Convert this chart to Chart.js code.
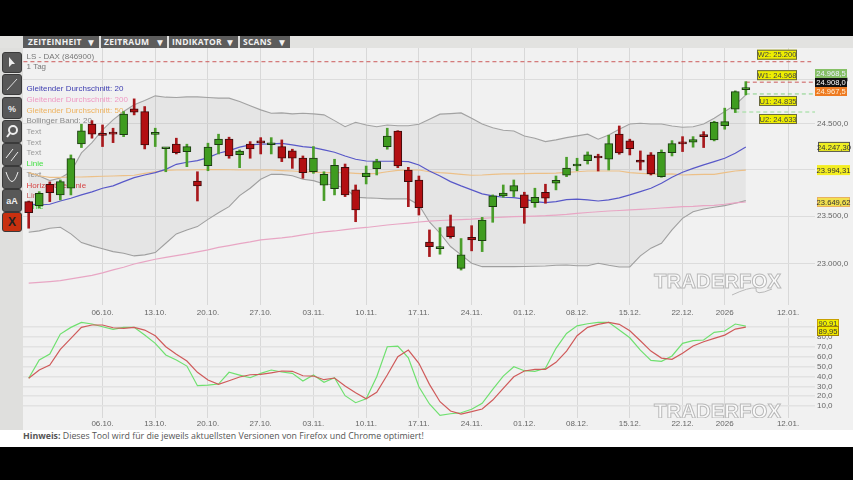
<!DOCTYPE html>
<html>
<head>
<meta charset="utf-8">
<title>LS - DAX</title>
<script src="https://cdn.jsdelivr.net/npm/chart.js"></script>
<style>
html,body{margin:0;padding:0;background:#000;overflow:hidden}
#page{position:relative;width:853px;height:480px;background:#000;overflow:hidden}
#toolbar{position:absolute;left:0;top:36px;width:853px;height:12px;background:#e2e2e0}
.tab{position:absolute;top:0;height:12px;background:#5c5c5c;color:#f2f2f2;font:bold 8.5px "Open Sans",sans-serif;line-height:12px;letter-spacing:.25px;white-space:nowrap}
.tab span{position:absolute;top:0}
.tab span+span{font-size:10px}
#side{position:absolute;left:0;top:48px;width:23px;height:382px;background:#dfdfdd}
.btn{position:absolute;left:2px;width:18px;background:#585858;border:1px solid #3a3a3a;border-radius:3px;box-sizing:content-box;color:#eee;text-align:center;font:bold 9px "Liberation Sans",sans-serif}
.btn svg{position:absolute;left:0;top:0;width:18px;height:100%}
#bg{position:absolute;left:23px;top:48px;width:830px;height:382px;background:#f1f1f1}
#priceCanvas{position:absolute;left:23px;top:48px;filter:blur(.3px)}
#stochCanvas{position:absolute;left:23px;top:318px;filter:blur(.3px)}
#foot{position:absolute;left:0;top:430px;width:853px;height:17px;background:#fff;color:#555;font:8.8px "Open Sans",sans-serif;line-height:13px;padding-left:23px;box-sizing:border-box}
</style>
</head>
<body>
<div id="page">
  <div id="toolbar">
    <div class="tab" style="left:23px;width:76px"><span style="left:5px">ZEITEINHEIT</span><span style="left:63px">▼</span></div>
    <div class="tab" style="left:101px;width:66px"><span style="left:3px">ZEITRAUM</span><span style="left:54px">▼</span></div>
    <div class="tab" style="left:169px;width:69px"><span style="left:3px">INDIKATOR</span><span style="left:56px">▼</span></div>
    <div class="tab" style="left:240px;width:50px"><span style="left:3px">SCANS</span><span style="left:37px">▼</span></div>
  </div>
  <div id="side">
    <div class="btn" style="top:4px;height:19px"><svg viewBox="0 0 18 19"><path d="M6 4l0 10 3-3 3 0z" fill="#eee"/></svg></div>
    <div class="btn" style="top:26px;height:19px"><svg viewBox="0 0 18 19"><path d="M4 15L14 4" stroke="#ddd"/></svg></div>
    <div class="btn" style="top:49px;height:20px;line-height:23px">%</div>
    <div class="btn" style="top:72px;height:21px"><svg viewBox="0 0 18 21"><circle cx="10" cy="9" r="4" fill="none" stroke="#eee" stroke-width="2"/><path d="M7 12l-3 4" stroke="#eee" stroke-width="2"/></svg></div>
    <div class="btn" style="top:95px;height:21px"><svg viewBox="0 0 18 21"><path d="M3 14L10 5M8 17L15 8" stroke="#eee"/></svg></div>
    <div class="btn" style="top:118px;height:21px"><svg viewBox="0 0 18 21"><path d="M3 5Q9 24 15 5" fill="none" stroke="#eee"/></svg></div>
    <div class="btn" style="top:141px;height:21px;line-height:22px">aA</div>
    <div class="btn" style="top:164px;height:18px;line-height:19px;background:#c8300f;color:#222;font-size:12px">X</div>
  </div>
  <div id="bg"></div>
  <canvas id="priceCanvas" width="830" height="270"></canvas>
  <canvas id="stochCanvas" width="830" height="112"></canvas>
  <div id="foot"><b>Hinweis:</b> Dieses Tool wird für die jeweils aktuellsten Versionen von Firefox und Chrome optimiert!</div>
</div>

<script>
// candles, one entry per trading day
var opens = [23654,23611,23841,23726,23798,24280,24500,24382,24404,24382,24668,24638,24385,24227,24277,24196,23876,24042,24273,24332,24163,24277,24302,24271,24251,24203,24126,23976,23830,23794,24024,23780,23923,24009,24251,24420,23995,23887,23224,23156,23388,22951,23276,23241,23600,23715,23766,23728,23643,23755,23852,23938,24038,24097,24137,24112,24387,24313,24104,24159,23923,24185,24291,24299,24379,24324,24481,24665,24883];
var closes = [23536,23744,23751,23869,24119,24423,24387,24374,24387,24609,24631,24269,24393,24236,24185,24251,23823,24244,24332,24148,24200,24225,24291,24280,24123,24123,23966,24126,23948,24046,23726,23565,23962,24086,24365,24038,23869,23589,23178,23164,23283,23091,23248,23458,23715,23747,23826,23589,23701,23690,23884,24016,24049,24159,24126,24283,24181,24229,24079,23952,24189,24283,24280,24327,24360,24522,24526,24862,24895];
var highs = [23660,23761,23866,23887,24159,24497,24537,24489,24453,24638,24780,24694,24453,24236,24343,24277,23976,24288,24387,24354,24214,24305,24349,24349,24324,24222,24148,24251,23976,24112,24060,23833,24038,24112,24453,24426,24024,23930,23353,23377,23511,23262,23398,23486,23726,23833,23887,23755,23798,23841,23930,24134,24123,24192,24167,24376,24478,24332,24203,24185,24214,24316,24360,24360,24415,24530,24676,24870,24974];
var lows = [23371,23586,23654,23672,23726,24240,24343,24251,24294,24360,24601,24225,24251,23976,24170,24031,23661,23987,24170,24123,24020,24123,24170,24170,24086,24013,23905,23959,23665,23726,23708,23440,23844,23941,24222,24020,23600,23511,23073,23098,23266,22933,23133,23125,23434,23701,23708,23423,23594,23637,23780,23923,23987,24060,23984,23995,24167,24159,23995,23941,23916,24148,24196,24244,24240,24313,24442,24627,24825];

// indicators
var ma20 = [23629,23618,23626,23661,23690,23726,23758,23798,23823,23869,23912,23941,23966,24002,24057,24079,24097,24130,24178,24207,24244,24269,24277,24280,24286,24269,24251,24240,24214,24189,24148,24112,24093,24090,24090,24090,24086,24050,23984,23930,23869,23823,23780,23737,23715,23701,23697,23680,23654,23643,23654,23675,23680,23672,23661,23672,23694,23726,23761,23798,23852,23916,23970,24013,24050,24086,24123,24178,24247];
var ma50 = [23966,23933,23916,23916,23919,23919,23923,23927,23930,23933,23938,23959,23976,23991,23995,23995,23998,24000,24000,23998,23995,23995,23995,23995,23989,23984,23976,23973,23966,23966,23966,23959,23952,23959,23976,23991,23995,23995,23976,23966,23959,23948,23938,23941,23948,23952,23952,23955,23959,23959,23962,23970,23976,23984,23984,23984,23984,23966,23959,23952,23948,23952,23941,23944,23948,23948,23966,23984,23994];
var ma200 = [22797,22805,22814,22824,22841,22859,22877,22903,22934,22962,22996,23020,23045,23064,23083,23101,23122,23143,23169,23188,23209,23227,23248,23258,23269,23283,23301,23318,23332,23342,23356,23369,23379,23392,23405,23416,23426,23437,23447,23453,23458,23463,23468,23476,23482,23489,23493,23497,23500,23504,23511,23518,23529,23538,23546,23554,23559,23565,23572,23578,23586,23593,23600,23604,23611,23615,23626,23640,23650];
var bollUpper = [23966,23930,23880,23909,23976,24181,24294,24434,24545,24638,24713,24761,24814,24799,24795,24802,24802,24795,24788,24788,24750,24702,24657,24620,24623,24612,24620,24612,24601,24537,24470,24519,24489,24470,24489,24481,24481,24497,24553,24609,24615,24623,24564,24500,24459,24431,24423,24368,24343,24305,24324,24349,24368,24387,24332,24379,24442,24500,24508,24500,24500,24478,24464,24470,24500,24564,24638,24713,24825];
var bollLower = [23329,23343,23371,23381,23311,23220,23185,23154,23125,23108,23080,23091,23115,23213,23311,23353,23388,23465,23535,23600,23718,23798,23895,23948,23948,23933,23895,23880,23844,23833,23798,23701,23694,23690,23683,23683,23683,23618,23437,23318,23178,23091,23003,22968,22968,22968,22968,22970,22972,22975,22982,22986,22978,22978,23003,22982,22965,22965,23080,23161,23213,23353,23476,23546,23575,23594,23611,23637,23665];

// stochastic panel
var stochK = [38.1,56.6,62.7,82.9,89.7,94.8,93.1,90.3,87.7,89.7,89.7,81.9,73.5,61.7,56.6,50.5,30.6,31.3,32.3,44.2,41.4,38.7,43.1,46.5,44.5,43.1,35.3,41.4,34,38.7,20.5,13.4,17.4,39.7,70.1,70.8,58.9,29.6,12.1,0.6,2.2,3.2,6.7,12.8,26.9,40.4,49.8,45.8,45.2,48.2,68.5,83.6,91.3,93.4,94.8,94.8,87,79.2,66.7,56.3,55.3,60.7,73.5,76.2,76.9,84.7,86,93.1,90.91];
var stochD = [38.1,46.5,51.5,67.4,78.6,89.7,92.1,92.1,89.3,88.7,89.7,87,81.2,70.1,62.4,55.6,44.2,36.4,32,35.6,39.4,41.7,42.1,43.7,45.5,45.2,40.7,40.4,36.7,38.4,30.3,23.5,17.4,23.9,41.4,60,66.7,53.3,32,14.4,5,1.9,4.3,7,16.1,28,39.7,45.5,47.2,47.2,54.3,65.7,81.2,89.7,92.8,94.8,92.8,86.3,76.2,65.7,58.6,57.3,63.4,70.8,75.1,78.6,81.9,88,89.95];

// x axis: trading day index and its label
var tickIndexes = [7,12,17,22,27,32,37,42,47,52,57,62,66,72];
var tickLabels = ["06.10.","13.10.","20.10.","27.10.","03.11.","10.11.","17.11.","24.11.","01.12.","08.12.","15.12.","22.12.","2026","12.01."];
var priceTicks = [23000,23500,24000,24500,25000];
var stochTicks = [10,20,30,40,50,60,70,80,90];

// pivot levels
var levelNames = ["W2: 25.200","W1: 24.968","U1: 24.835","U2: 24.633"];
var levelValues = [25200,24968,24835,24633];

var legendTexts = ["Gleitender Durchschnitt: 20","Gleitender Durchschnitt: 200","Gleitender Durchschnitt: 50","Bollinger Band: 20","Text","Text","Text","Linie","Text","Horizontale Linie","Linie","Linie"];
var legendColors = ["#3c3cb0","#ef9ac4","#eeb25e","#8a8a8a","#9a9a9a","#9a9a9a","#9a9a9a","#44e044","#8a8a8a","#e04040","#c86060","#44e044"];

var GREEN = "#3f9c1f", RED = "#b30f12";

function series(values) {
    return values.map(function (v, i) { return {x: i, y: v}; });
}

function lineSet(values, color, width) {
    return {type: "line", data: series(values), borderColor: color, borderWidth: width || 1.2, pointRadius: 0, tension: 0, fill: false, order: 5};
}

function levelSet(value, from, to, color) {
    return {type: "line", data: [{x: from, y: value}, {x: to, y: value}], borderColor: color, borderWidth: 1, borderDash: [4, 3], pointRadius: 0, fill: false, order: 4};
}

function isUp(ctx) {
    return closes[ctx.dataIndex] >= opens[ctx.dataIndex];
}

function germanNumber(v) {
    return String(Math.floor(v / 1000)) + "." + String(v % 1000).padStart(3, "0") + ",0";
}

function box(ctx, text, left, top, w, h, fill, stroke, color) {
    ctx.fillStyle = fill;
    ctx.fillRect(left, top, w, h);
    if (stroke) {
        ctx.strokeStyle = stroke;
        ctx.lineWidth = 1;
        ctx.strokeRect(left + 0.5, top + 0.5, w - 1, h - 1);
    }
    ctx.fillStyle = color;
    ctx.font = "7.6px 'Liberation Sans'";
    ctx.textAlign = "center";
    ctx.textBaseline = "middle";
    ctx.fillText(text, left + w / 2, top + h / 2 + 0.5);
}

function watermark(ctx, x, y) {
    ctx.save();
    ctx.font = "bold 21px 'Liberation Sans'";
    ctx.textAlign = "left";
    ctx.textBaseline = "middle";
    ctx.fillStyle = "#fafafa";
    ctx.strokeStyle = "#b9b9b9";
    ctx.lineWidth = 1;
    ctx.fillText("TRADERFOX", x, y, 127);
    ctx.strokeText("TRADERFOX", x, y, 127);
    // the swoosh under the logo
    ctx.beginPath();
    ctx.moveTo(x + 78, y + 13);
    ctx.quadraticCurveTo(x + 95, y + 5, x + 102, y + 6);
    ctx.quadraticCurveTo(x + 100, y + 15, x + 118, y + 7);
    ctx.stroke();
    ctx.restore();
}

var pricePlugin = {
    id: "priceOverlay",
    beforeDatasetsDraw: function (chart) {
        var ctx = chart.ctx;
        var left = chart.chartArea.left;
        ctx.save();
        ctx.font = "8px 'Liberation Sans'";
        ctx.textAlign = "left";
        ctx.textBaseline = "middle";
        ctx.fillStyle = "#777";
        ctx.fillText("LS - DAX (846900)", left + 3.5, 9);
        ctx.fillText("1 Tag", left + 3.5, 19);
        legendTexts.forEach(function (t, i) {
            ctx.fillStyle = legendColors[i];
            ctx.fillText(t, left + 3.5, 41 + i * 10.7);
        });
        ctx.restore();
        watermark(ctx, 631, 234);
    },
    afterDatasetsDraw: function (chart) {
        var ctx = chart.ctx;
        var yScale = chart.scales.y;
        ctx.save();
        // level captions sit above the upper two lines, below the lower two
        levelNames.forEach(function (name, i) {
            var py = yScale.getPixelForValue(levelValues[i]);
            var top = i < 2 ? py - 12 : py + 2;
            var left = i < 2 ? 734 : 736;
            box(ctx, name, left, top, i < 2 ? 40 : 38, 10, "#eeee00", "#6a6a40", "#444");
        });
        // last price tags
        box(ctx, "24.968,5", 792, 21, 32, 9, "#86c066", null, "#eef");
        box(ctx, "24.967,5", 792, 39, 32, 9, "#ee7b22", null, "#fff0d8");
        box(ctx, "24.908,0", 792, 30, 32, 9, "#111", null, "#fff");
        // moving average values
        box(ctx, "24.247,30", 795, yScale.getPixelForValue(ma20[68]) - 5, 32, 10, "#eeee22", "#555", "#333");
        box(ctx, "23.994,31", 794, yScale.getPixelForValue(ma50[68]) - 5, 33, 10, "#f4ee20", null, "#333");
        box(ctx, "23.649,62", 794, yScale.getPixelForValue(ma200[68]) - 5, 33, 10, "#f2e050", "#e8b060", "#333");
        ctx.restore();
    }
};

var stochPlugin = {
    id: "stochOverlay",
    beforeDatasetsDraw: function (chart) {
        var ctx = chart.ctx;
        var area = chart.chartArea;
        ctx.save();
        ctx.beginPath();
        ctx.rect(area.left, area.top, area.right - area.left, area.bottom - area.top);
        ctx.clip();
        watermark(ctx, 631, 94);
        ctx.restore();
    },
    afterDatasetsDraw: function (chart) {
        var ctx = chart.ctx;
        ctx.save();
        box(ctx, "90,91", 794, 1, 22, 8, "#eeee00", "#c8a000", "#444");
        box(ctx, "89,95", 794, 8, 22, 10, "#f0e800", "#a08000", "#333");
        ctx.restore();
    }
};

function xAxis() {
    return {
        type: "linear",
        offset: false,
        min: -0.5405,
        max: 74.56,
        afterBuildTicks: function (scale) {
            scale.ticks = tickIndexes.map(function (v) { return {value: v}; });
        },
        afterFit: function (scale) {
            scale.height = 13;
            scale.paddingLeft = 0;
            scale.paddingRight = 0;
        },
        grid: {color: "#d8d8d8", drawTicks: false, lineWidth: 1, offset: false},
        border: {display: false},
        ticks: {
            autoSkip: false,
            maxRotation: 0,
            padding: 3,
            color: "#666",
            font: {size: 8, family: "Liberation Sans"},
            callback: function (value) { return tickLabels[tickIndexes.indexOf(value)]; }
        }
    };
}

function yFit(scale) {
    scale.width = 38;
    scale.paddingTop = 0;
    scale.paddingBottom = 0;
}

function yTicks(fmt) {
    return {
        autoSkip: false,
        padding: 2,
        crossAlign: "near",
        color: "#666",
        font: {size: 8, family: "Liberation Sans"},
        callback: fmt
    };
}

new Chart(document.getElementById("priceCanvas"), {
    type: "bar",
    data: {
        datasets: [
            {type: "bar", grouped: false, barThickness: 8, minBarLength: 2, borderWidth: 1, borderSkipped: false, order: 1,
                data: opens.map(function (o, i) { return {x: i, y: [o, closes[i]]}; }),
                backgroundColor: function (ctx) { return isUp(ctx) ? GREEN : RED; },
                borderColor: function (ctx) { return isUp(ctx) ? "#1c3a12" : "#3c0c0c"; }},
            {type: "bar", grouped: false, barThickness: 2, borderWidth: 0, order: 2,
                data: lows.map(function (l, i) { return {x: i, y: [l, highs[i]]}; }),
                backgroundColor: function (ctx) { return isUp(ctx) ? "#4a9e2a" : "#a8181c"; }},
            levelSet(levelValues[0], -0.5, 74.2, "#cc5a5a"),
            levelSet(levelValues[1], 68, 74.56, "#cc5a5a"),
            levelSet(levelValues[2], 68, 74.56, "#84d084"),
            levelSet(levelValues[3], 67, 74.56, "#96dc96"),
            lineSet(ma20, "#5858c8"),
            lineSet(ma50, "#ecc088"),
            lineSet(ma200, "#e8a6c4"),
            {type: "line", data: series(bollUpper), borderColor: "#a2a2a2", borderWidth: 1.1, pointRadius: 0, tension: 0, order: 6,
                fill: "+1", backgroundColor: "rgba(110,110,110,0.09)"},
            {type: "line", data: series(bollLower), borderColor: "#a2a2a2", borderWidth: 1.1, pointRadius: 0, tension: 0, order: 6, fill: false}
        ]
    },
    options: {
        responsive: false,
        animation: false,
        layout: {padding: 0},
        plugins: {legend: {display: false}, tooltip: {enabled: false}},
        scales: {
            x: xAxis(),
            y: {
                type: "logarithmic",
                position: "right",
                min: 22573,
                max: 25357,
                bounds: "data",
                afterBuildTicks: function (scale) {
                    scale.ticks = priceTicks.map(function (v) { return {value: v}; });
                },
                afterFit: yFit,
                grid: {color: "#dcdcdc", drawTicks: false},
                border: {display: false},
                ticks: yTicks(function (v) { return germanNumber(v); })
            }
        }
    },
    plugins: [pricePlugin]
});

new Chart(document.getElementById("stochCanvas"), {
    type: "line",
    data: {
        datasets: [
            {data: series(stochD), borderColor: "#cf5a5a", borderWidth: 1.2, pointRadius: 0, tension: 0, order: 1},
            {data: series(stochK), borderColor: "#6fe06f", borderWidth: 1.2, pointRadius: 0, tension: 0, order: 2}
        ]
    },
    options: {
        responsive: false,
        animation: false,
        layout: {padding: 0},
        plugins: {legend: {display: false}, tooltip: {enabled: false}},
        scales: {
            x: (function () {
                var a = xAxis();
                a.afterFit = function (scale) {
                    scale.height = 12;
                    scale.paddingLeft = 0;
                    scale.paddingRight = 0;
                };
                a.ticks.padding = 1;
                return a;
            })(),
            y: {
                type: "linear",
                position: "right",
                min: -2.1,
                max: 99.2,
                afterBuildTicks: function (scale) {
                    scale.ticks = stochTicks.map(function (v) { return {value: v}; });
                },
                afterFit: yFit,
                grid: {color: "#e2e2e2", lineWidth: 1.5, drawTicks: false},
                border: {display: false},
                ticks: yTicks(function (v) { return v.toFixed(1).replace(".", ","); })
            }
        }
    },
    plugins: [stochPlugin]
});
</script>
</body>
</html>
